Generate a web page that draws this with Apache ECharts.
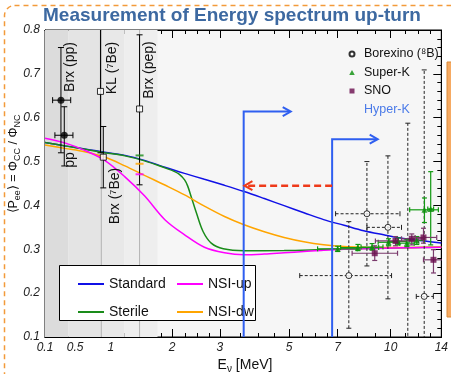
<!DOCTYPE html>
<html lang="en">
<head>
<meta charset="UTF-8">
<title>Measurement of Energy spectrum up-turn</title>
<script src="https://cdn.jsdelivr.net/npm/echarts@6/dist/echarts.min.js"></script>
<style>
  html, body { margin: 0; padding: 0; background: #fff; }
  #main { width: 451px; height: 374px; }
</style>
</head>
<body>
<div id="main"></div>
<script>
// the energy axis is drawn on u = asinh(E / 2): linear at low E, log-like above a few MeV
function tx(e) { return Math.asinh(e / 2); }
function fromU(u) { return 2 * Math.sinh(u); }

var X_MIN = 0.1, X_MAX = 14;
var Y_MIN = 0.1, Y_MAX = 0.8;
var xMajor = [0.1, 0.5, 1, 2, 3, 5, 7, 10, 14];
var xMinor = [0.2, 0.3, 0.4, 0.6, 0.7, 0.8, 0.9, 1.2, 1.4, 1.6, 1.8, 2.25, 2.5, 2.75,
              3.5, 4, 4.5, 5.5, 6, 6.5, 8, 9, 11, 12, 13];

// model curves, E in MeV
var curveE = [0.1, 0.36, 0.63, 0.91, 1.21, 1.52, 1.87, 2.24, 2.65, 3.11, 3.61, 4.19, 4.83, 5.55, 6.36, 7.31, 8.35, 9.54, 10.9, 12.4, 14];
var stdP = [0.5433, 0.5358, 0.5289, 0.5210, 0.5141, 0.5027, 0.4872, 0.4731, 0.4595, 0.4458, 0.4317, 0.4157, 0.3995, 0.3834, 0.3677, 0.3547, 0.3421, 0.3330, 0.3246, 0.3194, 0.3141];
var dwP = [0.5380, 0.5301, 0.5226, 0.5103, 0.4902, 0.4686, 0.4465, 0.4241, 0.3984, 0.3747, 0.3558, 0.3399, 0.3269, 0.3171, 0.3103, 0.3062, 0.3046, 0.3039, 0.3039, 0.3046, 0.3050];
var upP = [0.5533, 0.5426, 0.5255, 0.5027, 0.4651, 0.4219, 0.3674, 0.3330, 0.3046, 0.2920, 0.2875, 0.2891, 0.2920, 0.2948, 0.2977, 0.2998, 0.3011, 0.3023, 0.3034, 0.3041, 0.3046];

var sterE = [0.1, 0.36, 0.63, 0.91, 1.21, 1.52, 1.87, 2.05, 2.14, 2.24, 2.30, 2.37, 2.48, 2.62, 2.80, 3.08, 3.61, 4.83, 6.36, 8.35, 10.9, 14];
var sterP = [0.5433, 0.5358, 0.5282, 0.5203, 0.5130, 0.5016, 0.4856, 0.4772, 0.4708, 0.4583, 0.4446, 0.4203, 0.3825, 0.3405, 0.3141, 0.3011, 0.2966, 0.2970, 0.2993, 0.3016, 0.3034, 0.3046];

// model values marked on the pep line: sterile, NSI-dw, NSI-up
var pepMarkE = [1.44, 1.44, 1.44];
var pepMarkP = [0.514, 0.495, 0.471];

// measurements: [E, P, E low, E high, P low, P high]
var brxPP = [[0.31, 0.64, 0.20, 0.44, 0.52, 0.76], [0.354, 0.56, 0.23, 0.47, 0.49, 0.625]];
var beLines = [[0.85, 0.66, 0.85, 0.85, 0.52, 0.85], [0.89, 0.51, 0.89, 0.89, 0.44, 0.58], [1.44, 0.62, 1.44, 1.44, 0.447, 0.789]];
var b8 = [
  [8.53, 0.381, 6.90, 10.64, 0.262, 0.50],
  [9.82, 0.350, 8.53, 10.75, 0.187, 0.513],
  [7.55, 0.240, 5.39, 10.06, 0.12, 0.363],
  [12.5, 0.1925, 11.86, 13.28, 0.05, 0.709],
  [11.21, 0.05, 11.21, 11.21, 0.0, 0.5875]
];
var sk = [
  [7.0, 0.301, 6.1, 8.0, 0.295, 0.307],
  [8.03, 0.304, 7.14, 9.23, 0.297, 0.311],
  [8.83, 0.305, 8.2, 9.5, 0.298, 0.313],
  [9.86, 0.316, 9.2, 10.5, 0.308, 0.324],
  [10.52, 0.318, 9.9, 11.1, 0.310, 0.326],
  [11.14, 0.314, 10.6, 11.7, 0.306, 0.322],
  [11.9, 0.320, 11.3, 12.5, 0.311, 0.329],
  [12.52, 0.390, 11.35, 13.73, 0.361, 0.417],
  [13.05, 0.392, 12.8, 13.3, 0.310, 0.477]
];
var sno = [
  [8.99, 0.291, 7.72, 10.47, 0.2745, 0.308],
  [10.33, 0.319, 9.03, 12.04, 0.308, 0.329],
  [11.51, 0.324, 10.75, 12.44, 0.310, 0.335],
  [12.44, 0.327, 11.77, 13.58, 0.314, 0.348],
  [13.29, 0.276, 12.44, 14.5, 0.246, 0.299]
];

// Hyper-K thresholds: [E threshold, arrow level, arrow end E]
var hkArrows = [[3.6, 0.614, 5.06], [6.74, 0.551, 9.17]];
// shift of the threshold: [E from, E to, level]
var shiftArrow = [[6.74, 3.62, 0.445]];

// shaded source regions and lines
var bandEdges = [0.1, 0.41, 0.862, 1.2, 1.74];
var bandColors = ['#dcdcdc', '#e4e4e4', '#e8e8e8', '#eeeeee'];
var lineE = [0.862, 1.44];

var FONT = '"Liberation Sans", Arial, Helvetica, sans-serif';
var chart = echarts.init(document.getElementById('main'));

function pts(es, ps) { return es.map(function (e, i) { return [tx(e), ps[i]]; }); }
function errRows(rows) { return rows.map(function (r) { return [tx(r[0]), r[1], tx(r[2]), tx(r[3]), r[4], r[5]]; }); }
function fmtE(u) { var e = fromU(u); return e < 0.95 ? e.toFixed(1) : String(Math.round(e)); }

function errorBars(stroke, width, dash, cap) {
  return function (params, api) {
    var c = api.coord([api.value(0), api.value(1)]);
    var lo = api.coord([api.value(2), api.value(4)]);
    var hi = api.coord([api.value(3), api.value(5)]);
    var st = { stroke: stroke, lineWidth: width, lineDash: dash };
    var cs = { stroke: stroke, lineWidth: width };
    var kids = [
      { type: 'line', shape: { x1: c[0], y1: lo[1], x2: c[0], y2: hi[1] }, style: st },
      { type: 'line', shape: { x1: c[0] - cap, y1: lo[1], x2: c[0] + cap, y2: lo[1] }, style: cs },
      { type: 'line', shape: { x1: c[0] - cap, y1: hi[1], x2: c[0] + cap, y2: hi[1] }, style: cs }
    ];
    if (hi[0] - lo[0] > 1) {
      kids.push({ type: 'line', shape: { x1: lo[0], y1: c[1], x2: hi[0], y2: c[1] }, style: st });
      kids.push({ type: 'line', shape: { x1: lo[0], y1: c[1] - cap, x2: lo[0], y2: c[1] + cap }, style: cs });
      kids.push({ type: 'line', shape: { x1: hi[0], y1: c[1] - cap, x2: hi[0], y2: c[1] + cap }, style: cs });
    }
    return { type: 'group', children: kids };
  };
}

function chevron(x, y, dir, color) {
  return { type: 'polyline', shape: { points: [[x - dir * 8, y - 4.5], [x, y], [x - dir * 8, y + 4.5]] },
           style: { stroke: color, lineWidth: 2, fill: null } };
}

function axisX(pos, ticks, len, labels) {
  var vals = ticks.map(tx);
  return {
    type: 'value', position: pos, min: tx(X_MIN), max: tx(X_MAX),
    axisLine: { show: true, onZero: false, lineStyle: { color: '#000', width: 1 } },
    axisTick: { show: true, inside: true, length: len, customValues: vals, lineStyle: { color: '#000' } },
    axisLabel: labels ? { show: true, customValues: vals, formatter: fmtE, fontStyle: 'italic',
                          fontSize: 12, color: '#222', margin: 5, fontFamily: FONT } : { show: false },
    splitLine: { show: false }
  };
}

function axisY(pos, labels) {
  return {
    type: 'value', position: pos, min: Y_MIN, max: Y_MAX, interval: 0.1,
    axisLine: { show: true, onZero: false, lineStyle: { color: '#000', width: 1 } },
    axisTick: { show: true, inside: true, length: 8, lineStyle: { color: '#000' } },
    minorTick: { show: true, splitNumber: 5, length: 4, lineStyle: { color: '#000' } },
    axisLabel: labels ? { show: true, formatter: function (v) { return v.toFixed(1); }, fontStyle: 'italic',
                          fontSize: 12, color: '#222', margin: 5, fontFamily: FONT } : { show: false },
    splitLine: { show: false }, minorSplitLine: { show: false }
  };
}

function curve(name, es, ps, color) {
  return { name: name, type: 'line', data: pts(es, ps), showSymbol: false, smooth: 0.35,
           lineStyle: { color: color, width: 1.5 }, itemStyle: { color: color }, z: 3, silent: true };
}

function rotText(text, x, y) {
  return { type: 'text', x: x, y: y, rotation: Math.PI / 2, z: 5,
           style: { text: text, fontSize: 14, fontFamily: FONT, fill: '#111', align: 'center', verticalAlign: 'middle' } };
}

var curveColors = ['#1a8c1a', '#ffa500', '#ff00ff'];
var legendText = { fontSize: 14, lineHeight: 14, fontFamily: FONT, color: '#111' };

var option = {
  animation: false,
  grid: { left: 45, right: 8, top: 30, bottom: 37, show: true, backgroundColor: '#f6f6f6', borderColor: '#000', borderWidth: 1 },
  xAxis: [axisX('bottom', xMajor, 8, true), axisX('bottom', xMinor, 4, false),
          axisX('top', xMajor, 8, false), axisX('top', xMinor, 4, false)],
  yAxis: [axisY('left', true), axisY('right', false)],
  legend: [
    { data: ['Standard', 'Sterile'], left: 73, top: 272, orient: 'vertical', itemGap: 14, itemWidth: 26, itemHeight: 2,
      icon: 'rect', selectedMode: false, textStyle: legendText },
    { data: ['NSI-up', 'NSI-dw'], left: 172, top: 272, orient: 'vertical', itemGap: 14, itemWidth: 26, itemHeight: 2,
      icon: 'rect', selectedMode: false, textStyle: legendText },
    { data: [
        { name: 'Borexino (⁸B)', icon: 'circle' },
        { name: 'Super-K', icon: 'path://M5,0L10,9L0,9Z' },
        { name: 'SNO', icon: 'path://M0,0L10,0L10,10L0,10Z' },
        { name: 'Hyper-K', icon: 'none', textStyle: { color: '#4a7ae8' } }
      ],
      left: 340, top: 42, orient: 'vertical', itemGap: 4.5, itemWidth: 14, itemHeight: 5, symbolKeepAspect: true,
      selectedMode: false, textStyle: { fontSize: 12.5, lineHeight: 14, fontFamily: FONT, color: '#111' } }
  ],
  graphic: [
    { type: 'rect', shape: { x: 4.5, y: 5.5, width: 520, height: 420, r: 10 }, z: 0,
      style: { fill: null, stroke: '#f39a3a', lineWidth: 1.5, lineDash: [5, 4] } },
    { type: 'text', x: 232, y: 16, z: 5,
      style: { text: 'Measurement of Energy spectrum up-turn', fontSize: 19, fontWeight: 'bold', fontFamily: FONT,
               fill: '#3d69a1', align: 'center', verticalAlign: 'middle' } },
    { type: 'rect', shape: { x: 447, y: 62, width: 20, height: 255 }, z: 0,
      style: { fill: '#f6aa62', stroke: '#d98a3a', lineWidth: 1 } },
    { type: 'rect', shape: { x: 59.5, y: 265.5, width: 196, height: 55 }, z: 3,
      style: { fill: '#fff', stroke: '#000', lineWidth: 1 } },
    { type: 'text', x: 14, y: 164, rotation: Math.PI / 2, z: 5,
      style: { text: '⟨P{s|ee}⟩ = Φ{s|CC} / Φ{s|NC}', fontSize: 12.5, lineHeight: 17, fontFamily: FONT, fill: '#111',
               align: 'center', verticalAlign: 'middle',
               rich: { s: { fontSize: 9, lineHeight: 9, verticalAlign: 'bottom', fontFamily: FONT, fill: '#111' } } } },
    { type: 'text', x: 245, y: 365, z: 5,
      style: { text: 'E{s|ν} [MeV]', fontSize: 14, lineHeight: 18, fontFamily: FONT, fill: '#111',
               align: 'center', verticalAlign: 'middle',
               rich: { s: { fontSize: 10, lineHeight: 10, verticalAlign: 'bottom', fontFamily: FONT, fill: '#111' } } } },
    rotText('Brx (pp)', 70, 67),
    rotText('pp', 70, 160),
    rotText('KL (⁷Be)', 112, 68),
    rotText('Brx (⁷Be)', 115, 196),
    rotText('Brx (pep)', 149, 70)
  ],
  series: [
    { type: 'custom', silent: true, z: 1, data: bandColors.map(function (c, i) { return [tx(bandEdges[i]), tx(bandEdges[i + 1])]; }),
      renderItem: function (params, api) {
        var a = api.coord([api.value(0), Y_MAX]), b = api.coord([api.value(1), Y_MIN]);
        return { type: 'rect', shape: { x: a[0], y: a[1], width: b[0] - a[0], height: b[1] - a[1] },
                 style: { fill: bandColors[params.dataIndex] } };
      } },
    { type: 'custom', silent: true, z: 1, data: lineE.map(function (e) { return [tx(e), Y_MAX]; }),
      renderItem: function (params, api) {
        var a = api.coord([api.value(0), Y_MAX]), b = api.coord([api.value(0), Y_MIN]);
        return { type: 'line', shape: { x1: a[0], y1: a[1], x2: b[0], y2: b[1] }, style: { stroke: '#b4b4b4', lineWidth: 1 } };
      } },
    curve('Standard', curveE, stdP, '#1010e6'),
    curve('Sterile', sterE, sterP, curveColors[0]),
    curve('NSI-dw', curveE, dwP, curveColors[1]),
    curve('NSI-up', curveE, upP, curveColors[2]),
    { type: 'scatter', silent: true, z: 4, data: pts(pepMarkE, pepMarkP), symbol: 'rect', symbolSize: [8, 2],
      itemStyle: { color: function (p) { return curveColors[p.dataIndex]; } } },
    { type: 'custom', silent: true, z: 4, clip: true, data: errRows(brxPP.concat(beLines)), renderItem: errorBars('#000', 1, null, 3) },
    { name: 'Brx pp', type: 'scatter', silent: true, z: 5, data: errRows(brxPP), symbol: 'circle', symbolSize: 7,
      itemStyle: { color: '#000' } },
    { name: 'Be', type: 'scatter', silent: true, z: 5, data: errRows(beLines), symbol: 'rect', symbolSize: 6,
      itemStyle: { color: '#fff', borderColor: '#000', borderWidth: 1 } },
    { type: 'custom', silent: true, z: 4, clip: true, data: errRows(b8), renderItem: errorBars('#222', 1, [3, 2], 2.5) },
    { name: 'Borexino (⁸B)', type: 'scatter', silent: true, z: 5, data: errRows(b8), symbol: 'circle', symbolSize: 6, clip: true,
      itemStyle: { color: '#fff', borderColor: '#000', borderWidth: 1 } },
    { type: 'custom', silent: true, z: 4, clip: true, data: errRows(sk), renderItem: errorBars('#119911', 1.2, null, 2.5) },
    { name: 'Super-K', type: 'scatter', silent: true, z: 5, data: errRows(sk), symbol: 'triangle', symbolSize: 6,
      itemStyle: { color: '#0a8f0a' } },
    { type: 'custom', silent: true, z: 4, clip: true, data: errRows(sno), renderItem: errorBars('#7a3a6c', 1.2, null, 2.5) },
    { name: 'SNO', type: 'scatter', silent: true, z: 5, data: errRows(sno), symbol: 'rect', symbolSize: 6, clip: true,
      itemStyle: { color: '#6a0d4e' } },
    { name: 'Hyper-K', type: 'custom', silent: true, z: 6, data: hkArrows.map(function (r) { return [tx(r[0]), r[1], tx(r[2])]; }),
      itemStyle: { color: '#2f5ff0' },
      renderItem: function (params, api) {
        var base = api.coord([api.value(0), Y_MIN]);
        var top = api.coord([api.value(0), api.value(1)]);
        var end = api.coord([api.value(2), api.value(1)]);
        return { type: 'group', children: [
          { type: 'polyline', shape: { points: [base, top, [end[0] - 1, end[1]]] }, style: { stroke: '#2f5ff0', lineWidth: 2, fill: null } },
          chevron(end[0], end[1], 1, '#2f5ff0')
        ] };
      } },
    { type: 'custom', silent: true, z: 6, data: shiftArrow.map(function (r) { return [tx(r[0]), r[2], tx(r[1])]; }),
      renderItem: function (params, api) {
        var a = api.coord([api.value(0), api.value(1)]);
        var b = api.coord([api.value(2), api.value(1)]);
        return { type: 'group', children: [
          { type: 'line', shape: { x1: a[0], y1: a[1], x2: b[0] + 1, y2: b[1] }, style: { stroke: '#ee3a1a', lineWidth: 2.5, lineDash: [7, 4] } },
          chevron(b[0], b[1], -1, '#ee3a1a')
        ] };
      } }
  ]
};
chart.setOption(option);
</script>
</body>
</html>
